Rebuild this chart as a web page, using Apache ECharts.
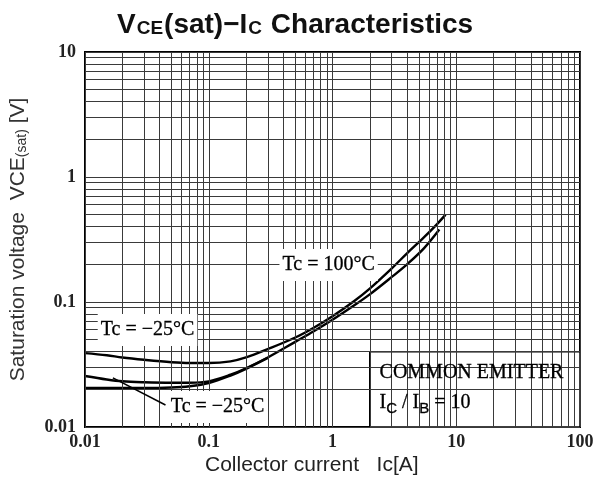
<!DOCTYPE html>
<html><head><meta charset="utf-8">
<script src="https://cdn.jsdelivr.net/npm/echarts@6/dist/echarts.min.js"></script>
<style>html,body{margin:0;padding:0;background:#fff}#c{width:597px;height:495px}</style>
</head><body><div id="c"></div>
<script>
// Tick labels
const xTickLabels = ['0.01', '0.1', '1', '10', '100'];
const yTickLabels = ['0.01', '0.1', '1', '10'];
// Grid decades and multipliers (log grid)
const decadesX = [0.01, 0.1, 1, 10];
const decadesY = [0.01, 0.1, 1];
const multipliers = [1, 2, 3, 4, 5, 6, 7, 8, 9];

// Curves (Ic [A], VCE(sat) [V])
const curveA_ic = [0.01, 0.015, 0.02, 0.03, 0.05, 0.07, 0.1, 0.15, 0.2, 0.3, 0.5, 0.7, 1, 1.5, 2, 3, 4, 5.5, 7, 8.2];
const curveA_v  = [0.039, 0.0375, 0.036, 0.0345, 0.033, 0.0325, 0.0325, 0.0335, 0.036, 0.042, 0.052, 0.062, 0.077, 0.102, 0.128, 0.185, 0.245, 0.33, 0.42, 0.50];
const curveB_ic = [0.01, 0.015, 0.02, 0.03, 0.05, 0.07, 0.1, 0.15, 0.2, 0.3, 0.5, 0.7, 1, 1.5, 2, 3, 4, 5.5, 7.3];
const curveB_v  = [0.0256, 0.024, 0.0232, 0.0228, 0.0226, 0.0226, 0.0232, 0.0262, 0.0295, 0.036, 0.048, 0.058, 0.072, 0.094, 0.115, 0.158, 0.2, 0.27, 0.38];
const curveC_ic = [0.01, 0.02, 0.03, 0.05, 0.07, 0.1, 0.15, 0.2, 0.3];
const curveC_v  = [0.0205, 0.0205, 0.0205, 0.0207, 0.0212, 0.0225, 0.0258, 0.0292, 0.0357];

// Annotations
const labelNames = ['Tc = \u221225\u00b0C', 'Tc = 100\u00b0C', 'Tc = \u221225\u00b0C'];
const labelIc = [0.032, 0.93, 0.118];
const labelV  = [0.0597, 0.198, 0.01445];
const leaderIc = [0.0168, 0.0447];
const leaderV  = [0.0247, 0.015];
const boxIc = [2, 100];
const boxV  = [0.04, 0.01];
const noteLines = ['COMMON EMITTER', '{n|I}{s|C}{n| / I}{s|B}{n| = 10}'];
const noteIc = [2.4, 2.4];
const noteV  = [0.027, 0.0156];

function zip(a, b) { return a.map((v, i) => [v, b[i]]); }
function gridValues(decades) {
  const out = [];
  decades.forEach(d => multipliers.forEach(m => out.push(+(d * m).toPrecision(6))));
  out.push(+(decades[decades.length - 1] * 10).toPrecision(6));
  return out;
}
const xGrid = gridValues(decadesX);
const yGrid = gridValues(decadesY);

const gridLine = { color: '#3a3a3a', width: 1, type: 'solid' };
const serif = 'Liberation Serif';

const curveStyle = { color: '#000', width: 2.4 };
function curve(ic, v) {
  return { type: 'line', data: zip(ic, v), smooth: 0.35, symbol: 'none', lineStyle: curveStyle, z: 4, silent: true };
}
const textInk = { color: '#000', textBorderColor: '#000', textBorderWidth: 0.3 };

const chart = echarts.init(document.getElementById('c'), null, { renderer: 'canvas' });
chart.setOption({
  animation: false,
  backgroundColor: '#fff',
  title: [{
    text: '{b|V}{s|CE}{b|(sat)\u2212I}{s|C}{b| Characteristics}',
    left: 112, top: 6,
    textStyle: {
      rich: {
        b: { fontFamily: 'Liberation Sans', fontWeight: 'bold', fontSize: 28, color: '#111', verticalAlign: 'bottom' },
        s: { fontFamily: 'Liberation Sans', fontWeight: 'bold', fontSize: 19, color: '#111', verticalAlign: 'bottom', padding: [0, 1, 1, 1] }
      }
    }
  }, {
    text: 'Collector current   Ic[A]',
    left: 200, top: 450,
    textStyle: { fontFamily: 'Liberation Sans', fontWeight: 'normal', fontSize: 21, color: '#222' }
  }],
  grid: { left: 82, top: 52, width: 498, height: 375, show: true, borderColor: '#000', borderWidth: 2, backgroundColor: 'transparent' },
  xAxis: {
    type: 'log', logBase: 10, min: 0.01, max: 100,
    axisLine: { show: false }, axisTick: { show: false }, splitLine: { show: false },
    axisLabel: { formatter: (v, i) => xTickLabels[i], fontFamily: serif, fontSize: 18, fontWeight: 'bold', color: '#222', margin: 6 }
  },
  yAxis: {
    type: 'log', logBase: 10, min: 0.01, max: 10,
    axisLine: { show: false }, axisTick: { show: false }, splitLine: { show: false },
    axisLabel: { formatter: (v, i) => yTickLabels[i], fontFamily: serif, fontSize: 18, fontWeight: 'bold', color: '#222', margin: 9 },
    name: '{n|Saturation voltage  VCE}{s|(sat)}{n| [V]}',
    nameLocation: 'middle', nameRotate: 90, nameGap: 56,
    nameTextStyle: {
      rich: {
        n: { fontFamily: 'Liberation Sans', fontSize: 21, color: '#333', verticalAlign: 'bottom' },
        s: { fontFamily: 'Liberation Sans', fontSize: 14, color: '#333', verticalAlign: 'bottom' }
      }
    }
  },
  series: [
    {
      type: 'line', data: [], z: 1, silent: true,
      markLine: {
        silent: true, symbol: 'none', animation: false, label: { show: false },
        lineStyle: gridLine,
        data: xGrid.map(v => ({ xAxis: v })).concat(yGrid.map(v => ({ yAxis: v })))
      }
    },
    {
      type: 'line', data: [], z: 2, silent: true,
      markArea: {
        silent: true,
        itemStyle: { color: '#fff', borderColor: '#000', borderWidth: 1.5 },
        data: [[{ coord: [boxIc[0], boxV[0]] }, { coord: [boxIc[1], boxV[1]] }]]
      }
    },
    curve(curveA_ic, curveA_v),
    curve(curveB_ic, curveB_v),
    Object.assign(curve(curveC_ic, curveC_v), {
      markLine: {
        silent: true, symbol: 'none', label: { show: false },
        lineStyle: { color: '#000', width: 1.5, type: 'solid' },
        data: [[{ coord: [leaderIc[0], leaderV[0]] }, { coord: [leaderIc[1], leaderV[1]] }]]
      }
    }),
    {
      type: 'scatter', symbolSize: 0, z: 5, silent: true,
      itemStyle: { opacity: 1 },
      data: labelNames.map((n, i) => ({ name: n, value: [labelIc[i], labelV[i]] })),
      label: Object.assign({
        show: true, position: 'inside', formatter: p => p.name, opacity: 1,
        fontFamily: serif, fontSize: 20, backgroundColor: '#fff', padding: [6, 3, 6, 3]
      }, textInk)
    },
    {
      type: 'scatter', symbolSize: 0, z: 5, silent: true,
      data: noteLines.map((n, i) => ({ name: n, value: [noteIc[i], noteV[i]] })),
      label: Object.assign({
        show: true, position: 'right', distance: 0, formatter: p => p.name, opacity: 1,
        fontFamily: serif, fontSize: 20,
        rich: {
          n: Object.assign({ fontFamily: serif, fontSize: 20, verticalAlign: 'bottom' }, textInk),
          s: Object.assign({ fontFamily: 'Liberation Sans', fontSize: 15, verticalAlign: 'bottom', padding: [0, 0, -3, 0] }, textInk)
        }
      }, textInk)
    }
  ]
});
</script></body></html>
